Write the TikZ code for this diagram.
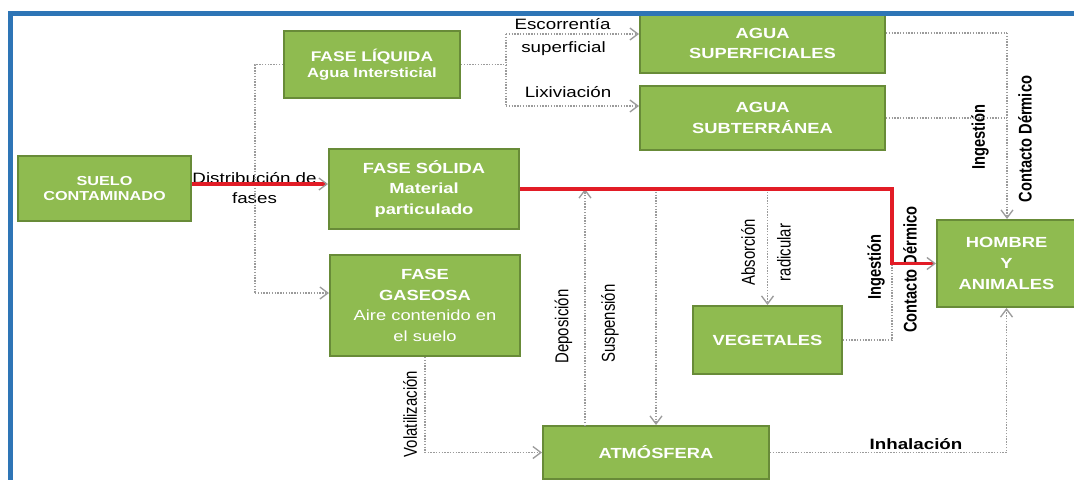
\documentclass[tikz,border=0pt]{standalone}
\usepackage{fontspec}
\setmainfont{Liberation Sans}
\newfontfamily\widefont[FakeStretch=1.25]{Liberation Sans}
\newfontfamily\narrowfont[FakeStretch=0.8]{Liberation Sans}
\usetikzlibrary{arrows.meta}
\definecolor{boxgreen}{RGB}{143,187,80}
\definecolor{boxedge}{RGB}{104,139,56}
\definecolor{flowred}{RGB}{226,28,38}
\definecolor{flowgrey}{RGB}{155,155,155}
\definecolor{frameblue}{RGB}{46,117,182}

\begin{document}
\begin{tikzpicture}[x=0.75pt,y=0.75pt,yscale=-1,xscale=1,
  phase/.style={draw=boxedge, fill=boxgreen, line width=1.5pt, text=white, align=center, inner sep=0pt,
    font=\widefont\bfseries\fontsize{11}{15.5}\selectfont},
  flow/.style={draw=flowgrey, line width=1.2pt, dash pattern=on 1.1pt off 1pt},
  flowarr/.style={flow, -{Straight Barb[length=6pt,width=9pt,line width=1pt]}},
  redflow/.style={draw=flowred, line width=2.6pt,
    -{Straight Barb[color=flowgrey,length=6pt,width=9pt,line width=1pt]}},
  lbl/.style={inner sep=0pt, font=\widefont\fontsize{11.25}{15}\selectfont},
  vlbl/.style={inner sep=0pt, rotate=90, font=\narrowfont\fontsize{14}{16}\selectfont}
]
\useasboundingbox (0,0) rectangle (1074,479);
\clip (0,0) rectangle (1074,479);

%Shape: Rectangle
\node[phase, minimum width=129.75pt, minimum height=48.75pt,
  font=\widefont\bfseries\fontsize{9.75}{11.5}\selectfont] (suelo) at (104.5,188.5) {SUELO\\CONTAMINADO};
%Shape: Rectangle
\node[phase, minimum width=132pt, minimum height=50.25pt,
  font=\widefont\bfseries\fontsize{10.5}{11.6}\selectfont] (liquida) at (372,64.5)
  {FASE LÍQUIDA\\{\fontsize{10}{11.6}\selectfont Agua Intersticial}};
%Shape: Rectangle
\node[phase, minimum width=142.5pt, minimum height=60pt] (solida) at (424,189) {FASE SÓLIDA\\Material\\particulado};
%Shape: Rectangle
\node[phase, minimum width=142.5pt, minimum height=75.75pt] (gaseosa) at (425,305.5)
  {FASE\\GASEOSA\\{\mdseries Aire contenido en}\\{\mdseries el suelo}};
%Shape: Rectangle
\node[phase, minimum width=183.75pt, minimum height=44.25pt] (superf) at (762.5,43.5) {AGUA\\SUPERFICIALES};
%Shape: Rectangle
\node[phase, minimum width=183.75pt, minimum height=48pt] (subter) at (762.5,118) {AGUA\\SUBTERRÁNEA};
%Shape: Rectangle
\node[phase, minimum width=111.75pt, minimum height=51pt] (vegetales) at (767.5,340) {VEGETALES};
%Shape: Rectangle
\node[phase, minimum width=169.5pt, minimum height=39.75pt] (atmosfera) at (656,452.5) {ATMÓSFERA};
%Shape: Rectangle
\node[phase, minimum width=104.25pt, minimum height=65.25pt] (hombre) at (1006.5,263.5) {HOMBRE\\Y\\ANIMALES};

% Text Node
\node[lbl, align=center] (ldist) at (254.5,188) {Distribución de\\fases};
% Text Node
\node[lbl] (lesc) at (562.5,24) {Escorrentía};
% Text Node
\node[lbl] (lsup) at (563.5,49) {superficial};
% Text Node
\node[lbl] (llix) at (568,92) {Lixiviación};
% Text Node
\node[lbl, font=\widefont\bfseries\fontsize{11.25}{15}\selectfont] (linh) at (916,444) {Inhalación};
% Text Node
\node[vlbl, font=\narrowfont\bfseries\fontsize{13.75}{16}\selectfont] (ling1) at (980,137) {Ingestión};
% Text Node
\node[vlbl, font=\narrowfont\bfseries\fontsize{13.75}{16}\selectfont] (lcon1) at (1025,139) {Contacto Dérmico};
% Text Node
\node[vlbl, font=\narrowfont\bfseries\fontsize{13.75}{16}\selectfont] (ling2) at (876,267) {Ingestión};
% Text Node
\node[vlbl, font=\narrowfont\bfseries\fontsize{13.75}{16}\selectfont] (lcon2) at (910,269.5) {Contacto Dérmico};
% Text Node
\node[vlbl] (labs) at (748,252.5) {Absorción};
% Text Node
\node[vlbl] (lrad) at (784,252.5) {radicular};
% Text Node
\node[vlbl] (ldep) at (563.5,326.5) {Deposición};
% Text Node
\node[vlbl] (lsus) at (610,323.5) {Suspensión};
% Text Node
\node[vlbl] (lvol) at (410,414) {Volatilización};

\coordinate (b1) at (255,293);
\coordinate (j1) at (506,34);
\coordinate (j2) at (506,106);
\coordinate (k1) at (1007,33);
\coordinate (rc) at (892,263.5);
\coordinate (dep) at (585,426);
\path (suelo.east) ++(0,-4.5) coordinate (d1);

%Straight Lines
\draw[flow] (liquida.west) -| (b1);
\draw[flowarr] (b1) -- (b1 -| gaseosa.west);
%Straight Lines
\draw[flow] (liquida.east) -- (liquida.east -| j1);
\draw[flow] (j1) -- (j2);
\draw[flowarr] (j1) -- (j1 -| superf.west);
\draw[flowarr] (j2) -- (j2 -| subter.west);
%Straight Lines
\draw[flow] (superf.east |- k1) -- (k1);
\draw[flow] (subter.east) -- (subter.east -| k1);
\draw[flowarr] (k1) -- (k1 |- hombre.north);
%Straight Lines
\draw[flow] (vegetales.east) -| (rc);
\draw[flowarr] (vegetales.north |- solida.east) -- (vegetales.north);
\draw[flowarr] (dep) -- (dep |- solida.east);
\draw[flowarr] (atmosfera.north |- solida.east) -- (atmosfera.north);
\draw[flowarr] (gaseosa.south) |- (atmosfera.west);
\draw[flowarr] (atmosfera.east) -| (hombre.south);
%Red Lines
\draw[redflow] (d1) -- (d1 -| solida.west);
\draw[redflow] (solida.east) -| (rc) -- (rc -| hombre.west);

%Frame
\draw[frameblue, line width=4pt] (10.3,13.5) rectangle (1100,520);

\end{tikzpicture}
\end{document}
